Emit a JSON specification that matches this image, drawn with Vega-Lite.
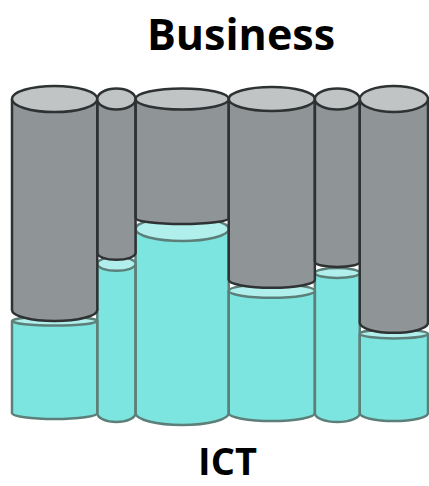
{
  "$schema": "https://vega.github.io/schema/vega-lite/v6.json",
  "width": 416,
  "height": 314,
  "autosize": {"type": "none"},
  "padding": {"left": 12, "top": 99, "right": 1, "bottom": 73},
  "background": "white",
  "config": {
    "view": {"stroke": null},
    "axisX": {"labels": false, "ticks": false, "domain": false, "grid": false, "titleFont": "Open Sans", "titleFontSize": 38, "titleFontWeight": "bold", "titleColor": "#000000", "titleBaseline": "alphabetic", "titlePadding": 61, "titleX": 215, "titleAlign": "center"}
  },
  "title": {"text": "Business", "font": "Open Sans", "fontSize": 43, "fontWeight": "bold", "color": "#000000", "anchor": "middle", "baseline": "alphabetic", "offset": -12, "dx": 21},
  "data": {"values": [
    {"col": "C1", "order": 1, "w": 20.5, "ict": 29.3},
    {"col": "C2", "order": 2, "w": 9.2, "ict": 47.5},
    {"col": "C3", "order": 3, "w": 22.4, "ict": 58.6},
    {"col": "C4", "order": 4, "w": 20.7, "ict": 38.9},
    {"col": "C5", "order": 5, "w": 10.8, "ict": 44.6},
    {"col": "C6", "order": 6, "w": 16.4, "ict": 25.2}
  ]},
  "transform": [{"stack": "w", "groupby": [], "sort": [{"field": "order", "order": "ascending"}], "as": ["x0", "x1"]}],
  "resolve": {"scale": {"shape": "independent"}},
  "layer": [
    {
      "transform": [{"fold": ["x0", "x1"], "as": ["edge", "xe"]}, {"aggregate": [{"op": "mean", "field": "xe", "as": "mid"}], "groupby": ["col", "order", "w", "ict"]}],
      "mark": {"type": "point", "filled": true, "fill": "#7de5df", "stroke": "#5d7f7a", "strokeWidth": 2.5, "opacity": 1},
      "encoding": {
        "x": {"field": "mid", "type": "quantitative", "title": "ICT", "scale": {"domain": [0, 100], "nice": false, "zero": false}},
        "y": {"datum": 0, "type": "quantitative", "scale": {"domain": [0, 100], "nice": false}, "axis": null},
        "size": {"field": "w", "type": "quantitative", "scale": {"type": "pow", "exponent": 2, "domain": [0, 100], "range": [0, 173056]}, "legend": null},
        "shape": {"field": "col", "type": "nominal", "legend": null, "scale": {"domain": ["C1", "C2", "C3", "C4", "C5", "C6"], "range": [
          "M-1,0C-1,-0.078,-0.552,-0.141,0,-0.141C0.552,-0.141,1,-0.078,1,0C1,0.078,0.552,0.141,0,0.141C-0.552,0.141,-1,0.078,-1,0Z",
          "M-1,0C-1,-0.26,-0.552,-0.471,0,-0.471C0.552,-0.471,1,-0.26,1,0C1,0.26,0.552,0.471,0,0.471C-0.552,0.471,-1,0.26,-1,0Z",
          "M-1,0C-1,-0.142,-0.552,-0.258,0,-0.258C0.552,-0.258,1,-0.142,1,0C1,0.142,0.552,0.258,0,0.258C-0.552,0.258,-1,0.142,-1,0Z",
          "M-1,0C-1,-0.103,-0.552,-0.186,0,-0.186C0.552,-0.186,1,-0.103,1,0C1,0.103,0.552,0.186,0,0.186C-0.552,0.186,-1,0.103,-1,0Z",
          "M-1,0C-1,-0.221,-0.552,-0.4,0,-0.4C0.552,-0.4,1,-0.221,1,0C1,0.221,0.552,0.4,0,0.4C-0.552,0.4,-1,0.221,-1,0Z",
          "M-1,0C-1,-0.13,-0.552,-0.235,0,-0.235C0.552,-0.235,1,-0.13,1,0C1,0.13,0.552,0.235,0,0.235C-0.552,0.235,-1,0.13,-1,0Z"
        ]}}
      }
    },
    {
      "mark": {"type": "rect", "fill": "#7de5df", "strokeWidth": 0},
      "encoding": {
        "x": {"field": "x0", "type": "quantitative", "title": "ICT"},
        "x2": {"field": "x1"},
        "y": {"field": "ict", "type": "quantitative", "axis": null},
        "y2": {"datum": 0}
      }
    },
    {
      "transform": [{"fold": ["x0", "x1"], "as": ["edge", "xe"]}],
      "mark": {"type": "rule", "stroke": "#5d7f7a", "strokeWidth": 2.5},
      "encoding": {
        "x": {"field": "xe", "type": "quantitative", "title": "ICT"},
        "y": {"field": "ict", "type": "quantitative", "axis": null},
        "y2": {"datum": 0}
      }
    },
    {
      "transform": [{"fold": ["x0", "x1"], "as": ["edge", "xe"]}, {"aggregate": [{"op": "mean", "field": "xe", "as": "mid"}], "groupby": ["col", "order", "w", "ict"]}],
      "mark": {"type": "point", "filled": true, "fill": "#b1efec", "stroke": "#5d7f7a", "strokeWidth": 2.5, "opacity": 1},
      "encoding": {
        "x": {"field": "mid", "type": "quantitative", "title": "ICT"},
        "y": {"field": "ict", "type": "quantitative", "axis": null},
        "size": {"field": "w", "type": "quantitative", "legend": null},
        "shape": {"field": "col", "type": "nominal", "legend": null, "scale": {"domain": ["C1", "C2", "C3", "C4", "C5", "C6"], "range": [
          "M-1,0C-1,-0.059,-0.552,-0.106,0,-0.106C0.552,-0.106,1,-0.059,1,0C1,0.059,0.552,0.106,0,0.106C-0.552,0.106,-1,0.059,-1,0Z",
          "M-1,0C-1,-0.202,-0.552,-0.366,0,-0.366C0.552,-0.366,1,-0.202,1,0C1,0.202,0.552,0.366,0,0.366C-0.552,0.366,-1,0.202,-1,0Z",
          "M-1,0C-1,-0.142,-0.552,-0.258,0,-0.258C0.552,-0.258,1,-0.142,1,0C1,0.142,0.552,0.258,0,0.258C-0.552,0.258,-1,0.142,-1,0Z",
          "M-1,0C-1,-0.09,-0.552,-0.163,0,-0.163C0.552,-0.163,1,-0.09,1,0C1,0.09,0.552,0.163,0,0.163C-0.552,0.163,-1,0.09,-1,0Z",
          "M-1,0C-1,-0.123,-0.552,-0.222,0,-0.222C0.552,-0.222,1,-0.123,1,0C1,0.123,0.552,0.222,0,0.222C-0.552,0.222,-1,0.123,-1,0Z",
          "M-1,0C-1,-0.073,-0.552,-0.132,0,-0.132C0.552,-0.132,1,-0.073,1,0C1,0.073,0.552,0.132,0,0.132C-0.552,0.132,-1,0.073,-1,0Z"
        ]}}
      }
    },
    {
      "transform": [{"fold": ["x0", "x1"], "as": ["edge", "xe"]}, {"aggregate": [{"op": "mean", "field": "xe", "as": "mid"}], "groupby": ["col", "order", "w", "ict"]}],
      "mark": {"type": "point", "filled": true, "fill": "#8f9497", "stroke": "#2f3233", "strokeWidth": 2.5, "opacity": 1, "yOffset": -11},
      "encoding": {
        "x": {"field": "mid", "type": "quantitative", "title": "ICT"},
        "y": {"field": "ict", "type": "quantitative", "axis": null},
        "size": {"field": "w", "type": "quantitative", "legend": null},
        "shape": {"field": "col", "type": "nominal", "legend": null, "scale": {"domain": ["C1", "C2", "C3", "C4", "C5", "C6"], "range": [
          "M-1,0C-1,-0.142,-0.552,-0.258,0,-0.258C0.552,-0.258,1,-0.142,1,0C1,0.142,0.552,0.258,0,0.258C-0.552,0.258,-1,0.142,-1,0Z",
          "M-1,0C-1,-0.202,-0.552,-0.366,0,-0.366C0.552,-0.366,1,-0.202,1,0C1,0.202,0.552,0.366,0,0.366C-0.552,0.366,-1,0.202,-1,0Z",
          "M-1,0C-1,-0.071,-0.552,-0.129,0,-0.129C0.552,-0.129,1,-0.071,1,0C1,0.071,0.552,0.129,0,0.129C-0.552,0.129,-1,0.071,-1,0Z",
          "M-1,0C-1,-0.103,-0.552,-0.186,0,-0.186C0.552,-0.186,1,-0.103,1,0C1,0.103,0.552,0.186,0,0.186C-0.552,0.186,-1,0.103,-1,0Z",
          "M-1,0C-1,-0.123,-0.552,-0.222,0,-0.222C0.552,-0.222,1,-0.123,1,0C1,0.123,0.552,0.222,0,0.222C-0.552,0.222,-1,0.123,-1,0Z",
          "M-1,0C-1,-0.162,-0.552,-0.293,0,-0.293C0.552,-0.293,1,-0.162,1,0C1,0.162,0.552,0.293,0,0.293C-0.552,0.293,-1,0.162,-1,0Z"
        ]}}
      }
    },
    {
      "mark": {"type": "rect", "fill": "#8f9497", "strokeWidth": 0, "yOffset": -11},
      "encoding": {
        "x": {"field": "x0", "type": "quantitative", "title": "ICT"},
        "x2": {"field": "x1"},
        "y": {"field": "ict", "type": "quantitative", "axis": null},
        "y2": {"datum": 100}
      }
    },
    {
      "transform": [{"fold": ["x0", "x1"], "as": ["edge", "xe"]}],
      "mark": {"type": "rule", "stroke": "#2f3233", "strokeWidth": 2.5, "yOffset": -11},
      "encoding": {
        "x": {"field": "xe", "type": "quantitative", "title": "ICT"},
        "y": {"field": "ict", "type": "quantitative", "axis": null},
        "y2": {"datum": 100}
      }
    },
    {
      "transform": [{"fold": ["x0", "x1"], "as": ["edge", "xe"]}, {"aggregate": [{"op": "mean", "field": "xe", "as": "mid"}], "groupby": ["col", "order", "w", "ict"]}],
      "mark": {"type": "point", "filled": true, "fill": "#c1c4c5", "stroke": "#2f3233", "strokeWidth": 2.5, "opacity": 1},
      "encoding": {
        "x": {"field": "mid", "type": "quantitative", "title": "ICT"},
        "y": {"datum": 100, "type": "quantitative", "axis": null},
        "size": {"field": "w", "type": "quantitative", "legend": null},
        "shape": {"field": "col", "type": "nominal", "legend": null, "scale": {"domain": ["C1", "C2", "C3", "C4", "C5", "C6"], "range": [
          "M-1,0C-1,-0.168,-0.552,-0.305,0,-0.305C0.552,-0.305,1,-0.168,1,0C1,0.168,0.552,0.305,0,0.305C-0.552,0.305,-1,0.168,-1,0Z",
          "M-1,0C-1,-0.304,-0.552,-0.55,0,-0.55C0.552,-0.55,1,-0.304,1,0C1,0.304,0.552,0.55,0,0.55C-0.552,0.55,-1,0.304,-1,0Z",
          "M-1,0C-1,-0.124,-0.552,-0.225,0,-0.225C0.552,-0.225,1,-0.124,1,0C1,0.124,0.552,0.225,0,0.225C-0.552,0.225,-1,0.124,-1,0Z",
          "M-1,0C-1,-0.154,-0.552,-0.279,0,-0.279C0.552,-0.279,1,-0.154,1,0C1,0.154,0.552,0.279,0,0.279C-0.552,0.279,-1,0.154,-1,0Z",
          "M-1,0C-1,-0.258,-0.552,-0.467,0,-0.467C0.552,-0.467,1,-0.258,1,0C1,0.258,0.552,0.467,0,0.467C-0.552,0.467,-1,0.258,-1,0Z",
          "M-1,0C-1,-0.21,-0.552,-0.381,0,-0.381C0.552,-0.381,1,-0.21,1,0C1,0.21,0.552,0.381,0,0.381C-0.552,0.381,-1,0.21,-1,0Z"
        ]}}
      }
    }
  ]
}
